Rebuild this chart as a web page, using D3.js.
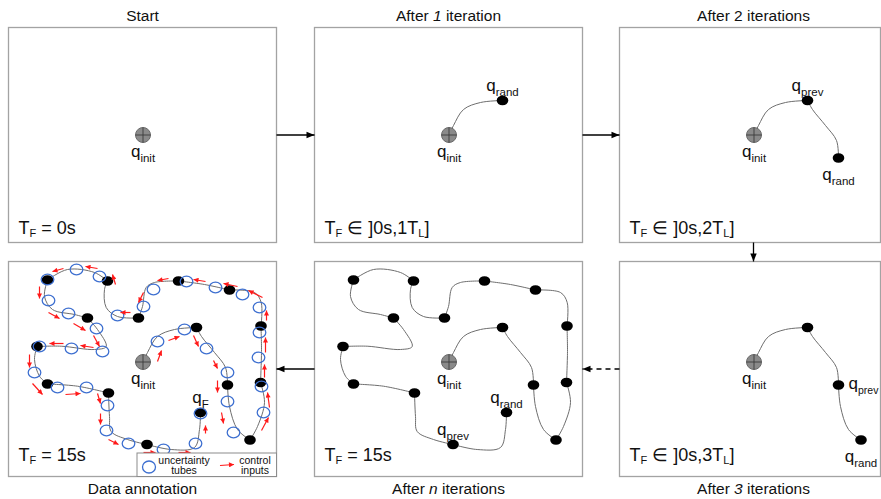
<!DOCTYPE html>
<html>
<head>
<meta charset="utf-8">
<script src="https://cdn.jsdelivr.net/npm/d3@7"></script>
<style>
  body { margin: 0; background: #fff; }
  svg { display: block; font-family: "Liberation Sans", Arial, sans-serif; }
  text { white-space: pre; }
</style>
</head>
<body>
<svg width="881" height="499"></svg>
<script>
// Tree nodes in workspace units, in the order they were added (0 = q_init)
const nodeX = [134.5, 188, 219, 241.5, 252, 252.5, 221, 170, 130, 99, 39, 79, 28.5, 39, 100, 138.5, 192];
const nodeY = [100.5, 66, 123.5, 178.5, 121, 64.5, 28.5, 19.5, 56.5, 19.5, 18.5, 56.5, 85, 122.5, 131.5, 183, 151];

// Bend points of each edge (edge i joins node i and node i+1)
const edgeBends = [
  [[139, 91], [149, 75], [166, 68]],
  [[193, 75], [206, 91], [217, 106]],
  [[221, 145], [229, 168]],
  [[249, 165], [256, 141]],
  [[253, 90]],
  [[252.7, 41], [246, 31]],
  [[196, 23]],
  [[146, 21], [137.7, 26], [134, 45]],
  [[109, 55], [97.7, 46], [96, 28]],
  [[86, 11], [59, 8]],
  [[36, 35], [44, 48], [66, 53]],
  [[89, 68], [97.7, 85], [86, 88], [52.7, 84.7]],
  [[26, 98], [31, 114.7]],
  [[69, 124.7]],
  [[101, 155], [102.7, 170], [119, 178]],
  [[162.7, 188], [186, 186], [191, 168]]
];

// Uncertainty tubes along the final trajectory (workspace units)
const tubeX = [68, 91, 39, 40, 60, 88, 63, 94, 31, 26, 135, 109, 145, 178, 207, 234, 251, 251, 250, 176, 149, 198, 219,
               49, 78, 99, 98, 120, 219, 225, 253, 255, 155, 187, 192];
const tubeY = [8, 15, 18, 39, 52, 67, 87, 90, 85, 111, 45, 54, 28, 20, 26, 33, 46, 71, 96, 68, 80, 87, 111,
               126, 126, 144, 169, 182, 140, 171, 125, 151, 188, 182, 152];

// Control inputs: [x1, y1, x2, y2] in workspace units
const controlInputs = [
  [55, 7, 44, 10], [89, 7, 77, 5], [107, 23, 104, 13], [31, 25, 31, 37], [40, 51, 51, 57],
  [65, 62, 77, 69], [85, 74, 91, 85], [55, 82, 41, 82], [85, 86, 72, 84], [21, 93, 21, 106],
  [122, 51, 112, 51], [135, 31, 130, 41], [160, 17, 149, 19], [197, 20, 185, 18], [229, 25, 215, 22],
  [254, 36, 240, 29], [258, 59, 258, 49], [257, 91, 257, 76], [256, 116, 256, 103], [149, 100, 153, 89],
  [160, 79, 171, 75], [185, 74, 190, 85], [205, 99, 209, 107], [24, 122, 34, 133], [57, 133, 72, 132],
  [89, 132, 92, 142], [92, 152, 92, 163], [100, 178, 110, 183], [209, 119, 209, 131], [213, 151, 215, 162],
  [261, 146, 259, 131], [253, 169, 260, 156], [135, 191, 147, 191], [170, 191, 182, 191], [197, 172, 197, 164]
];

// Panels, in the order of the planning loop
const panelTitles = [
  ["Start"],
  ["After ", "1", " iteration"],
  ["After 2 iterations"],
  ["After ", "3", " iterations"],
  ["After ", "n", " iterations"],
  ["Data annotation"]
]; // odd parts are italic
const panelTF = ["T_{F} = 0s", "T_{F} ∈ ]0s,1T_{L}]", "T_{F} ∈ ]0s,2T_{L}]",
                 "T_{F} ∈ ]0s,3T_{L}]", "T_{F} = 15s", "T_{F} = 15s"];
const panelEdgeCount = [0, 1, 2, 3, 16, 16];
const panelLabels = [
  [[0, "init", "below"]],
  [[0, "init", "below"], [1, "rand", "above"]],
  [[0, "init", "below"], [1, "prev", "above"], [2, "rand", "below"]],
  [[0, "init", "below"], [2, "prev", "right"], [3, "rand", "below"]],
  [[0, "init", "below"], [15, "prev", "above"], [16, "rand", "above"]],
  [[0, "init", "below"], [16, "F", "above"]]
];
const panelAnnotated = [false, false, false, false, false, true];
// Flow between panels: [from, to, dashed]
const flow = [[0, 1, false], [1, 2, false], [2, 3, false], [3, 4, true], [4, 5, false]];
const legendLabels = [["uncertainty", "tubes"], ["control", "inputs"]];

// Layout
const panelCell = [[0, 0], [1, 0], [2, 0], [2, 1], [1, 1], [0, 1]];
const colLeft = [8.5, 314.5, 619.5], rowTop = [27.5, 261.5];
const boxW = 268, boxH = 215, rightEdge = 880.5;
const rowShift = [7, 0];
const wsW = 268, wsH = 215;

const svg = d3.select("svg");
const defs = svg.append("defs");
defs.append("marker").attr("id", "blackHead")
    .attr("viewBox", "0 -5 10 10").attr("refX", 10).attr("refY", 0)
    .attr("markerUnits", "userSpaceOnUse").attr("markerWidth", 10).attr("markerHeight", 8)
    .attr("orient", "auto")
  .append("path").attr("d", "M0,-4L10,0L0,4Z").attr("fill", "#000");
defs.append("marker").attr("id", "redHead")
    .attr("viewBox", "0 -5 10 10").attr("refX", 10).attr("refY", 0)
    .attr("markerUnits", "userSpaceOnUse").attr("markerWidth", 6).attr("markerHeight", 5)
    .attr("orient", "auto")
  .append("path").attr("d", "M0,-5L10,0L0,5Z").attr("fill", "#ff1a1a");

// text with _{...} subscripts
function richText(sel, str, size, subSize, subDy) {
  const parts = str.split(/(_\{[^}]*\})/).filter(s => s);
  let offset = 0;
  parts.forEach(p => {
    const sub = p.startsWith("_{");
    const target = sub ? subDy : 0;
    sel.append("tspan")
      .attr("dy", target - offset)
      .attr("font-size", sub ? subSize : size)
      .text(sub ? p.slice(2, -1) : p);
    offset = target;
  });
}

const line = d3.line().curve(d3.curveCatmullRom.alpha(0.5));

panelTitles.forEach((title, i) => {
  const [col, row] = panelCell[i];
  const left = colLeft[col], top = rowTop[row];
  const w = Math.min(boxW, rightEdge - left);
  const x = d3.scaleLinear().domain([0, wsW]).range([left, left + boxW]);
  const y = d3.scaleLinear().domain([0, wsH]).range([top + rowShift[row], top + rowShift[row] + boxH]);
  const g = svg.append("g");

  g.append("rect")
    .attr("x", left).attr("y", top).attr("width", w).attr("height", boxH)
    .attr("fill", "#fff").attr("stroke", "#a3a3a3").attr("stroke-width", 1.3);

  // title
  const tt = g.append("text")
    .attr("x", left + boxW / 2)
    .attr("y", row === 0 ? 21 : 494)
    .attr("text-anchor", "middle")
    .attr("font-size", 15.5).attr("fill", "#111");
  title.forEach((t, k) => tt.append("tspan").attr("font-style", k % 2 ? "italic" : "normal").text(t));

  // edges of the tree so far
  const n = panelEdgeCount[i];
  const edges = d3.range(n).map(e =>
    [[nodeX[e], nodeY[e]], ...edgeBends[e], [nodeX[e + 1], nodeY[e + 1]]]);
  g.selectAll(".edge").data(edges).join("path")
    .attr("class", "edge")
    .attr("d", d => line(d.map(p => [x(p[0]), y(p[1])])))
    .attr("fill", "none").attr("stroke", "#6e6e6e").attr("stroke-width", 1);

  // nodes
  g.selectAll(".node").data(d3.range(1, n + 1)).join("ellipse")
    .attr("class", "node")
    .attr("cx", d => x(nodeX[d])).attr("cy", d => y(nodeY[d]))
    .attr("rx", 5.8).attr("ry", 4.8).attr("fill", "#000");

  const cx = x(nodeX[0]), cy = y(nodeY[0]);
  g.append("circle").attr("cx", cx).attr("cy", cy).attr("r", 7.5)
    .attr("fill", "#8a8a8a").attr("stroke", "#6a6a6a").attr("stroke-width", 1);
  g.append("path")
    .attr("d", `M${cx - 7.5},${cy}H${cx + 7.5}M${cx},${cy - 7.5}V${cy + 7.5}`)
    .attr("stroke", "#3a3a3a").attr("stroke-width", 0.9);

  if (panelAnnotated[i]) {
    g.selectAll(".tube").data(tubeX).join("ellipse")
      .attr("class", "tube")
      .attr("cx", (d, k) => x(tubeX[k])).attr("cy", (d, k) => y(tubeY[k]))
      .attr("rx", 6.3).attr("ry", 5.4)
      .attr("fill", "none").attr("stroke", "#3d6fd0").attr("stroke-width", 1.3);

    g.selectAll(".ctrl").data(controlInputs).join("line")
      .attr("class", "ctrl")
      .attr("x1", d => x(d[0])).attr("y1", d => y(d[1]))
      .attr("x2", d => x(d[2])).attr("y2", d => y(d[3]))
      .attr("stroke", "#ff1a1a").attr("stroke-width", 1.2)
      .attr("marker-end", "url(#redHead)");

    // legend
    const lx = left + 128.5, ly = top + boxH - 23.5;
    const lg = g.append("g");
    lg.append("rect").attr("x", lx).attr("y", ly).attr("width", left + boxW - lx).attr("height", 23.5)
      .attr("fill", "#fff").attr("stroke", "#8c8c8c").attr("stroke-width", 1);
    lg.append("ellipse").attr("cx", lx + 12).attr("cy", ly + 14).attr("rx", 6.5).attr("ry", 6)
      .attr("fill", "none").attr("stroke", "#3d6fd0").attr("stroke-width", 1.3);
    lg.append("line").attr("x1", lx + 83).attr("y1", ly + 12.5).attr("x2", lx + 97).attr("y2", ly + 11.5)
      .attr("stroke", "#ff1a1a").attr("stroke-width", 1.2).attr("marker-end", "url(#redHead)");
    [47, 118].forEach((off, k) => {
      legendLabels[k].forEach((s, j) => {
        lg.append("text").attr("x", lx + off).attr("y", ly + 10.5 + j * 10.5)
          .attr("text-anchor", "middle").attr("font-size", 10.5).attr("fill", "#111").text(s);
      });
    });
  }

  // q labels
  panelLabels[i].forEach(([k, sub, place]) => {
    const px = x(nodeX[k]), py = y(nodeY[k]);
    const t = g.append("text").attr("fill", "#111");
    if (place === "below") t.attr("x", px).attr("y", py + 22).attr("text-anchor", "middle");
    if (place === "above") t.attr("x", px).attr("y", py - 10).attr("text-anchor", "middle");
    if (place === "right") t.attr("x", px + 10).attr("y", py + 4).attr("text-anchor", "start");
    richText(t, `q_{${sub}}`, 17, place === "right" ? 10.5 : 11.5, 5);
  });

  // final time label
  const tf = g.append("text")
    .attr("x", left + 10).attr("y", top + 199 + rowShift[row])
    .attr("fill", "#111");
  richText(tf, panelTF[i], 18, 11, 3.5);
});

// arrows between panels
flow.forEach(([a, b, dashed]) => {
  const [ca, ra] = panelCell[a], [cb, rb] = panelCell[b];
  let x1, y1, x2, y2;
  if (ra === rb) {
    y1 = y2 = rowTop[ra] + boxH / 2;
    if (cb > ca) { x1 = colLeft[ca] + boxW; x2 = colLeft[cb]; }
    else { x1 = colLeft[ca]; x2 = colLeft[cb] + boxW; }
  } else {
    x1 = x2 = colLeft[ca] + boxW / 2;
    y1 = rowTop[ra] + boxH; y2 = rowTop[rb];
  }
  svg.append("line")
    .attr("x1", x1).attr("y1", y1).attr("x2", x2).attr("y2", y2)
    .attr("stroke", "#000").attr("stroke-width", 1.3)
    .attr("stroke-dasharray", dashed ? "5,4" : null)
    .attr("marker-end", "url(#blackHead)");
});
</script>
</body>
</html>
